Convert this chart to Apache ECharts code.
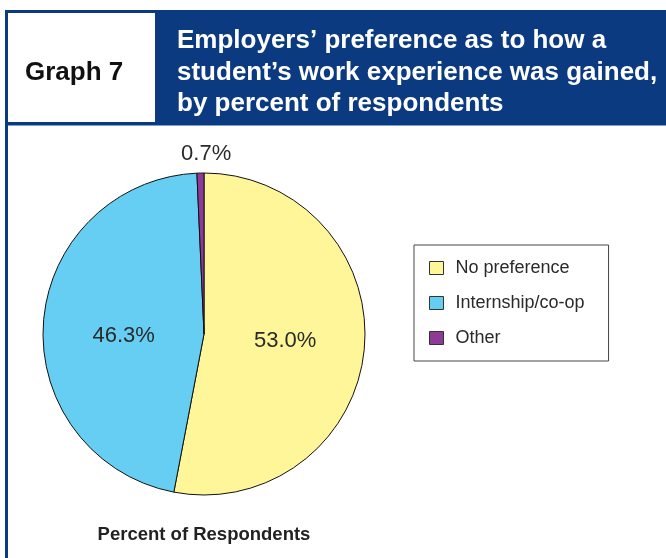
<!DOCTYPE html>
<html><head><meta charset="utf-8">
<script src="https://cdn.jsdelivr.net/npm/echarts@6/dist/echarts.min.js"></script>
<style>html,body{margin:0;padding:0;background:#fff}#c{width:666px;height:558px}</style>
</head><body><div id="c"></div>
<script>
var categories = ['No preference', 'Internship/co-op', 'Other'];
var values = [53.0, 46.3, 0.7];
var colors = ['#fff599', '#66cdf3', '#8e3b97'];
var titleLines = ['Employers\u2019 preference as to how a', 'student\u2019s work experience was gained,', 'by percent of respondents'];
var graphLabel = 'Graph 7';
var bottomLabel = 'Percent of Respondents';

var chart = echarts.init(document.getElementById('c'), null, {renderer: 'canvas'});
var FONT = 'Liberation Sans, Arial, Helvetica, sans-serif';
var BLUE = '#0b3a80';

var labelOpts = [
  {position: 'inside', fontSize: 22, color: '#2a2a2a', offset: [-2, -1]},
  {position: 'inside', fontSize: 22, color: '#2a2a2a', offset: [3, 8]},
  {position: 'inside', fontSize: 22, color: '#2a2a2a', offset: [4, -97]}
];

var data = categories.map(function (c, i) {
  return {
    name: c, value: values[i],
    itemStyle: {color: colors[i]},
    label: labelOpts[i]
  };
});

var graphics = [
  {type: 'rect', shape: {x: 5, y: 10, width: 661, height: 115}, style: {fill: BLUE}, silent: true},
  {type: 'rect', shape: {x: 8, y: 13, width: 147, height: 109}, style: {fill: '#fff'}, silent: true},
  {type: 'rect', shape: {x: 5, y: 125, width: 3, height: 433}, style: {fill: BLUE}, silent: true},
  {type: 'rect', shape: {x: 8, y: 125, width: 658, height: 1}, style: {fill: '#7f9fd0'}, silent: true},
  {type: 'text', x: 25, y: 73, style: {text: graphLabel, font: 'bold 26px ' + FONT, fill: '#111', verticalAlign: 'middle'}, silent: true}
];
titleLines.forEach(function (t, i) {
  graphics.push({type: 'text', x: 177, y: 41 + i * 31.5,
    style: {text: t, font: 'bold 26px ' + FONT, fill: '#fff', verticalAlign: 'middle'}, silent: true});
});
graphics.push({type: 'text', x: 204, y: 535, style: {text: bottomLabel, font: 'bold 18.5px ' + FONT, fill: '#222', align: 'center', verticalAlign: 'middle'}, silent: true});

chart.setOption({
  animation: false,
  color: colors,
  legend: {
    orient: 'vertical', left: 414, top: 245,
    data: categories,
    itemWidth: 14, itemHeight: 13, itemGap: 17,
    icon: 'rect',
    padding: [14, 24, 14, 15],
    borderColor: '#444', borderWidth: 1,
    textStyle: {fontSize: 18, color: '#2a2a2a', fontFamily: FONT, padding: [0, 0, 0, 7]},
    itemStyle: {borderColor: '#333', borderWidth: 1}
  },
  graphic: graphics,
  series: [{
    type: 'pie',
    center: [204, 334], radius: 161,
    startAngle: 90, clockwise: true,
    data: data,
    itemStyle: {borderColor: '#111', borderWidth: 1},
    label: {show: true, formatter: function (p) { return p.value.toFixed(1) + '%'; }, fontFamily: FONT},
    labelLine: {show: false},
    emphasis: {disabled: true}
  }]
});
</script></body></html>
